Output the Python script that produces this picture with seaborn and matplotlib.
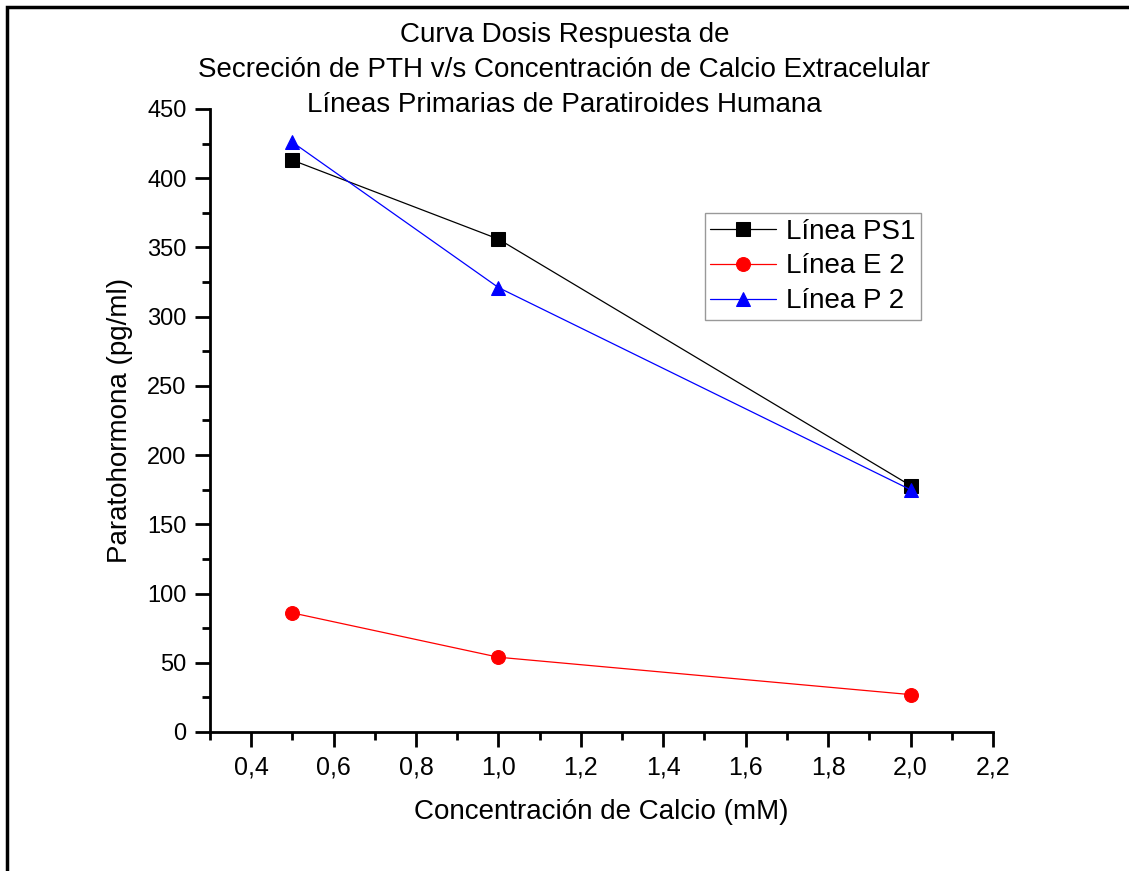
import pandas as pd
import numpy as np
import matplotlib
matplotlib.use("Agg")
import matplotlib.pyplot as plt
import seaborn as sns
from matplotlib.ticker import MultipleLocator, FuncFormatter
from matplotlib.patches import Rectangle

# data
calcio = [0.5, 1.0, 2.0]
ps1 = [413, 356, 178]
e2 = [86, 54, 27]
p2 = [426, 321, 175]
series_names = ["Línea PS1", "Línea E 2", "Línea P 2"]
series_colors = ["#000000", "#ff0000", "#0000ff"]
series_markers = ["s", "o", "^"]

df = pd.DataFrame({
    "x": calcio * 3,
    "y": ps1 + e2 + p2,
    "serie": [n for n in series_names for _ in calcio],
})

sns.set_style("white")
plt.rcParams['font.family'] = ['Liberation Sans', 'DejaVu Sans']
plt.rcParams['text.color'] = 'black'
plt.rcParams['axes.labelcolor'] = 'black'
plt.rcParams['xtick.color'] = 'black'
plt.rcParams['ytick.color'] = 'black'

fig = plt.figure(figsize=(11.29, 8.71), dpi=100)
ax = fig.add_axes([0.186, 0.1596, 0.6935, 0.7153])

sns.lineplot(data=df, x="x", y="y", hue="serie", style="serie",
             palette=dict(zip(series_names, series_colors)),
             markers=dict(zip(series_names, series_markers)),
             dashes=False, linewidth=0.9, markersize=10,
             markeredgecolor=None, ax=ax)
# marker edges in series colour
for line, c in zip(ax.get_lines(), series_colors):
    line.set_markeredgecolor(c)
    line.set_markerfacecolor(c)

ax.set_xlim(0.3, 2.2)
ax.set_ylim(0, 450)
ax.xaxis.set_major_locator(MultipleLocator(0.2))
ax.xaxis.set_minor_locator(MultipleLocator(0.1))
ax.yaxis.set_major_locator(MultipleLocator(50))
ax.yaxis.set_minor_locator(MultipleLocator(25))
ax.xaxis.set_major_formatter(FuncFormatter(lambda v, p: f"{v:.1f}".replace(".", ",")))

for side in ["top", "right"]:
    ax.spines[side].set_visible(False)
for side in ["left", "bottom"]:
    ax.spines[side].set_linewidth(2)
    ax.spines[side].set_color("black")

ax.tick_params(which="major", direction="out", length=11, width=2,
               left=True, bottom=True, pad=6)
ax.tick_params(which="minor", direction="out", length=6, width=2, left=True, bottom=True)
ax.tick_params(axis="x", labelsize=18)
ax.tick_params(axis="y", labelsize=17)
ax.set_xticks([0.4, 0.6, 0.8, 1.0, 1.2, 1.4, 1.6, 1.8, 2.0, 2.2])

ax.set_xlabel("Concentración de Calcio (mM)", fontsize=20, labelpad=14)
ax.set_ylabel("Paratohormona (pg/ml)", fontsize=20, labelpad=10)

leg = ax.legend(loc="upper left", bbox_to_anchor=(0.632, 0.833), fontsize=20,
                frameon=True, fancybox=False, edgecolor="#808080",
                handlelength=2.35, handletextpad=0.36, borderpad=0.2,
                labelspacing=0.32, borderaxespad=0, markerscale=1.0)
leg.get_frame().set_linewidth(1.0)
leg.set_title(None)

fig.text(0.5, 0.96, "Curva Dosis Respuesta de", ha="center", va="center", fontsize=20)
fig.text(0.5, 0.92, "Secreción de PTH v/s Concentración de Calcio Extracelular",
         ha="center", va="center", fontsize=20)
fig.text(0.5, 0.88, "Líneas Primarias de Paratiroides Humana", ha="center",
         va="center", fontsize=20)

# outer frame (left and top edges visible)
fig.add_artist(Rectangle((0.006, -0.05), 1.1, 1.042, transform=fig.transFigure,
                         fill=False, edgecolor="black", linewidth=2.5))

fig.savefig("out.png", dpi=100)
